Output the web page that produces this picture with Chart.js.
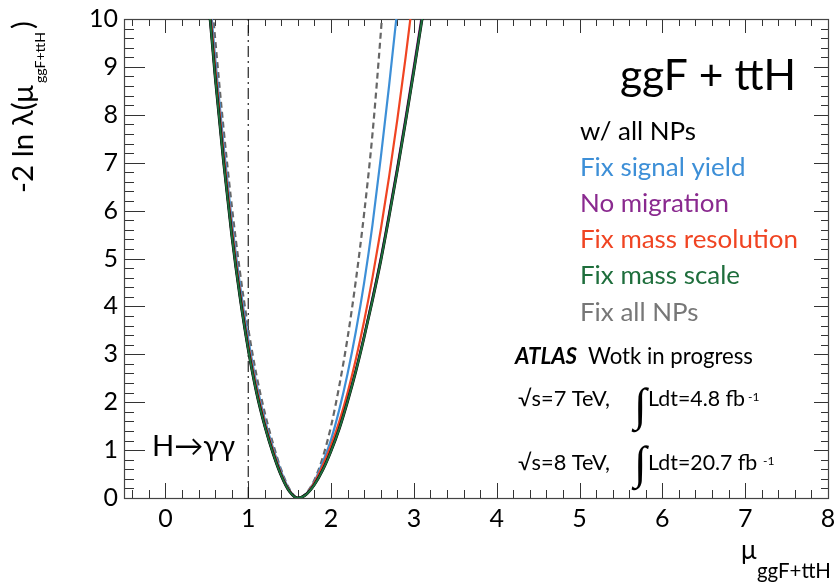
<!DOCTYPE html>
<html>
<head>
<meta charset="utf-8">
<script src="https://cdn.jsdelivr.net/npm/chart.js@4.4.1/dist/chart.umd.min.js"></script>
<style>
html,body{margin:0;padding:0;background:#ffffff;}
canvas{display:block;}
</style>
</head>
<body>
<canvas id="c" width="836" height="582"></canvas>
<script>
// ---- data ----
const muValues       = [0.5,0.6,0.7,0.8,0.9,1.0,1.1,1.2,1.3,1.4,1.5,1.6,1.7,1.8,1.9,2.0,2.1,2.2,2.3,2.4,2.5,2.6,2.7,2.8,2.9,3.0,3.1,3.2];
const nllAllNPs      = [10.8,8.8,7.05,5.5,4.2,3.1,2.2,1.5,0.93,0.46,0.13,0,0.075,0.28,0.585,0.98,1.45,2.02,2.65,3.36,4.13,4.95,5.87,6.84,7.86,8.92,10.01,11.14];
const nllNoMigration = [10.8,8.8,7.05,5.5,4.2,3.1,2.2,1.5,0.93,0.46,0.13,0,0.078,0.29,0.6,1.0,1.47,2.05,2.69,3.41,4.19,5.02,5.95,6.93,7.96,9.03,10.13,11.27];
const nllMassScale   = [10.8,8.8,7.05,5.5,4.2,3.1,2.2,1.5,0.93,0.46,0.13,0,0.075,0.28,0.585,0.98,1.45,2.02,2.65,3.36,4.13,4.95,5.87,6.84,7.86,8.92,10.01,11.14];
const nllSignalYield = [11.2,9.2,7.4,5.8,4.45,3.32,2.38,1.64,1.04,0.54,0.16,0,0.09,0.35,0.75,1.22,1.85,2.6,3.48,4.5,5.7,7.1,8.6,10.2,11.9,null,null,null];
const nllMassRes     = [11.0,9.0,7.22,5.65,4.32,3.2,2.29,1.57,0.99,0.5,0.15,0,0.085,0.33,0.68,1.1,1.6,2.2,2.9,3.7,4.6,5.6,6.7,7.9,9.2,10.6,null,null];
const nllAllFixed    = [11.6,9.6,7.75,6.12,4.72,3.54,2.56,1.78,1.13,0.58,0.18,0,0.1,0.38,0.85,1.5,2.35,3.35,4.55,5.95,7.6,9.7,12.1,null,null,null,null,null];
const refLineMu      = [1, 1];
const refLineNll     = [0, 10];
const xTickValues    = [0,1,2,3,4,5,6,7,8];
const yTickValues    = [0,1,2,3,4,5,6,7,8,9,10];
const seriesNames    = ['w/ all NPs','Fix signal yield','No migration','Fix mass resolution','Fix mass scale','Fix all NPs'];

const toPts = (xs, ys) => xs.map((x, i) => ({x: x, y: ys[i]}));

const FONT = 'Lato';

const frameTicks = {
  id: 'frameTicks',
  beforeDatasetsDraw(chart) {
    const {ctx, chartArea: a, scales: {x, y}} = chart;
    ctx.save();
    ctx.strokeStyle = '#333';
    ctx.lineWidth = 1;
    ctx.beginPath();
    for (let i = -2; i <= 40; i++) {
      const px = Math.round(x.getPixelForValue(i / 5)) + 0.5;
      const major = i % 5 === 0;
      const lb = major ? 15 : 8, lt = major ? 14 : 7;
      ctx.moveTo(px, a.bottom); ctx.lineTo(px, a.bottom - lb);
      ctx.moveTo(px, a.top); ctx.lineTo(px, a.top + lt);
    }
    for (let i = 0; i <= 50; i++) {
      const py = Math.round(y.getPixelForValue(i / 5)) + 0.5;
      const major = i % 5 === 0;
      const ll = major ? 21 : 10, lr = major ? 14 : 7;
      ctx.moveTo(a.left, py); ctx.lineTo(a.left + ll, py);
      ctx.moveTo(a.right, py); ctx.lineTo(a.right - lr, py);
    }
    ctx.stroke();
    ctx.strokeStyle = '#444';
    ctx.lineWidth = 1.2;
    ctx.strokeRect(Math.round(a.left) + 0.5, Math.round(a.top) + 0.5, Math.round(a.right - a.left), Math.round(a.bottom - a.top));
    ctx.restore();
  }
};

function fitSize(ctx, text, style, family, targetW) {
  ctx.font = style + ' 100px ' + family;
  return 100 * targetW / ctx.measureText(text).width;
}
function put(ctx, text, x, y, size, style, family, color, align) {
  ctx.font = style + ' ' + size.toFixed(2) + 'px ' + family;
  ctx.fillStyle = color;
  ctx.textAlign = align || 'left';
  ctx.textBaseline = 'alphabetic';
  ctx.fillText(text, x, y);
}

const annotations = {
  id: 'annotations',
  afterDraw(chart) {
    const ctx = chart.ctx;
    ctx.save();
    const sBig = fitSize(ctx, 'ggF + ttH', 'normal', FONT, 176);
    put(ctx, 'ggF + ttH', 796, 90, sBig, 'normal', FONT, '#000', 'right');
    const legColors = ['#000000', '#3d8fd7', '#8a2a8f', '#f04422', '#1e6e3c', '#777777'];
    const sLeg = fitSize(ctx, 'Fix mass resolution', 'normal', FONT, 218);
    seriesNames.forEach((t, i) => put(ctx, t, 580, 140 + 36.1 * i, sLeg, 'normal', FONT, legColors[i]));
    const sAtlas = fitSize(ctx, 'ATLAS', 'italic bold', FONT, 62);
    put(ctx, 'ATLAS', 515, 364, sAtlas, 'italic bold', FONT, '#000');
    const sWork = fitSize(ctx, 'Wotk in progress', 'normal', FONT, 165);
    put(ctx, 'Wotk in progress', 588, 364, sWork, 'normal', FONT, '#000');
    const sE = fitSize(ctx, '√s=7 TeV,', 'normal', FONT, 92);
    put(ctx, '√s=7 TeV,', 518, 406, sE, 'normal', FONT, '#000');
    put(ctx, '√s=8 TeV,', 518, 470, sE, 'normal', FONT, '#000');
    const sL = fitSize(ctx, 'Ldt=4.8 fb', 'normal', FONT, 97);
    put(ctx, 'Ldt=4.8 fb', 648, 406, sL, 'normal', FONT, '#000');
    put(ctx, 'Ldt=20.7 fb', 648, 470, sL, 'normal', FONT, '#000');
    put(ctx, '-1', 748, 401, 12, 'normal', FONT, '#000');
    put(ctx, '-1', 763, 465, 12, 'normal', FONT, '#000');
    put(ctx, '∫', 634, 420, 46, 'normal', 'Liberation Serif', '#000');
    put(ctx, '∫', 634, 478, 46, 'normal', 'Liberation Serif', '#000');
    const sH = fitSize(ctx, 'H→γγ', 'normal', FONT, 83);
    put(ctx, 'H→γγ', 152, 456, sH, 'normal', FONT, '#000');
    put(ctx, 'μ', 741, 559, 26, 'normal', FONT, '#000');
    const sXs = fitSize(ctx, 'ggF+ttH', 'normal', FONT, 74);
    put(ctx, 'ggF+ttH', 757, 578, sXs, 'normal', FONT, '#000');
    ctx.translate(33, 193);
    ctx.rotate(-Math.PI / 2);
    const sYm = fitSize(ctx, '-2 ln λ(μ', 'normal', FONT, 108);
    put(ctx, '-2 ln λ(μ', 0, 0, sYm, 'normal', FONT, '#000');
    const sYs = fitSize(ctx, 'ggF+ttH', 'normal', FONT, 51);
    put(ctx, 'ggF+ttH', 110, 12, sYs, 'normal', FONT, '#000');
    put(ctx, ')', 164, 0, sYm, 'normal', FONT, '#000');
    ctx.restore();
  }
};

const lineDs = (label, ys, color, width, dash) => ({
  label: label,
  data: toPts(muValues, ys),
  borderColor: color,
  backgroundColor: color,
  borderWidth: width,
  borderDash: dash || [],
  pointRadius: 0,
  fill: false,
  cubicInterpolationMode: 'monotone',
  spanGaps: false
});

new Chart(document.getElementById('c'), {
  type: 'line',
  data: {
    datasets: [
      lineDs(seriesNames[4], nllMassScale, '#1e6e3c', 2.0),
      lineDs(seriesNames[0], nllAllNPs, '#000000', 2.8),
      lineDs(seriesNames[2], nllNoMigration, '#8a2a8f', 2.0),
      lineDs(seriesNames[3], nllMassRes, '#f04422', 2.2),
      lineDs(seriesNames[1], nllSignalYield, '#3d8fd7', 2.2),
      lineDs(seriesNames[5], nllAllFixed, '#666666', 2.2, [6, 4]),
      {
        label: 'SM',
        data: toPts(refLineMu, refLineNll),
        borderColor: '#111',
        borderWidth: 1.1,
        borderDash: [11, 4, 2, 4],
        pointRadius: 0,
        fill: false
      }
    ]
  },
  options: {
    responsive: false,
    animation: false,
    events: [],
    layout: {padding: {left: 0, right: 8, top: 19, bottom: 0}},
    plugins: {legend: {display: false}, tooltip: {enabled: false}, title: {display: false}},
    scales: {
      x: {
        type: 'linear', min: -0.5, max: 8,
        grid: {display: false, drawTicks: false},
        border: {display: false},
        ticks: {font: {family: FONT, size: 25}, color: '#000', padding: 6, maxRotation: 0},
        afterBuildTicks: s => { s.ticks = xTickValues.map(v => ({value: v})); },
        afterFit: s => { s.height = 84; s.paddingLeft = 0; s.paddingRight = 0; }
      },
      y: {
        type: 'linear', min: 0, max: 10,
        grid: {display: false, drawTicks: false},
        border: {display: false},
        ticks: {font: {family: FONT, size: 25}, color: '#000', padding: 6},
        afterBuildTicks: s => { s.ticks = yTickValues.map(v => ({value: v})); },
        afterFit: s => { s.width = 124; s.paddingTop = 0; s.paddingBottom = 0; }
      }
    }
  },
  plugins: [frameTicks, annotations]
});
</script>
</body>
</html>
